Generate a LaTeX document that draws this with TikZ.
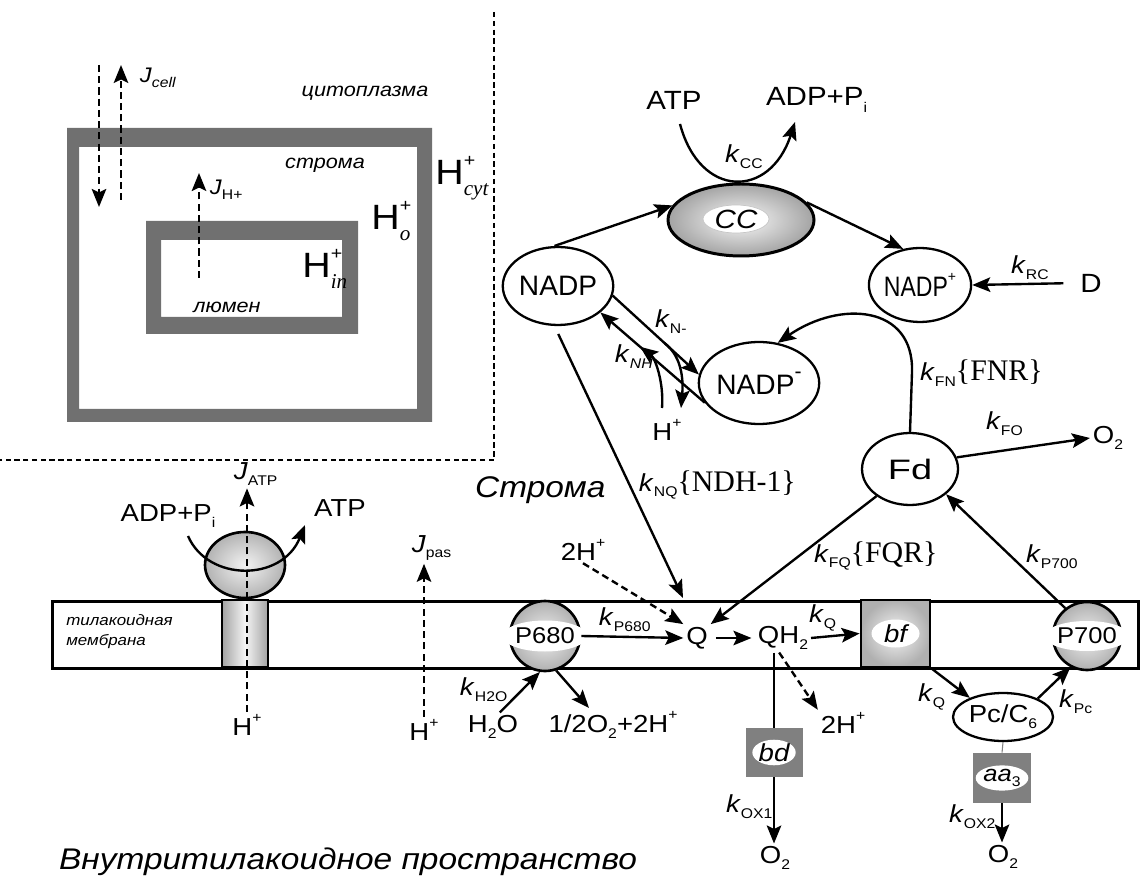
\documentclass[tikz,border=0pt]{standalone}
\usepackage{fontspec}
\setmainfont{Liberation Sans}[FakeStretch=1.12]
\newfontfamily\nadpfont{Liberation Sans}
\newfontfamily\timesfont{Liberation Serif}
\usetikzlibrary{arrows.meta, positioning, shapes.geometric, calc}

\definecolor{framegray}{gray}{0.44}
\definecolor{boxgray}{gray}{0.5}

\newcommand{\lo}[1]{\raisebox{-0.45ex}{\fontsize{8}{8}\selectfont #1}}
\newcommand{\hi}[1]{\raisebox{0.95ex}{\fontsize{8}{8}\selectfont #1}}
\newcommand{\rate}[1]{\textit{k}\lo{#1}}
\newcommand{\enz}[1]{{\timesfont\fontsize{17}{17}\selectfont\{#1\}}}
\newcommand{\Hion}[1]{H\rlap{\raisebox{1.0ex}{\fontsize{10}{10}\selectfont +}}\raisebox{-0.55ex}{\timesfont\itshape\fontsize{12}{12}\selectfont #1}}

\tikzset{
  arr/.style={line width=1.35pt, -{Stealth[length=3.6mm, width=2.9mm, inset=0.7mm]}},
  darr/.style={arr, dash pattern=on 4pt off 2.4pt},
  lbl/.style={inner sep=1.5pt},
  state/.style={ellipse, draw, line width=1.3pt, fill=white, inner sep=0pt, font=\nadpfont\fontsize{16}{16}\selectfont},
  sphere/.style={circle, draw, line width=1.5pt, inner sep=0pt, inner color=gray!12, outer color=gray!62},
  band/.style={ellipse, fill=white, inner sep=0pt, font=\fontsize{13}{13}\selectfont},
  tag/.style={ellipse, fill=white, inner sep=0pt, font=\itshape\fontsize{14}{14}\selectfont},
  oxid/.style={rectangle, fill=boxgray, inner sep=0pt},
  cplx/.style={rectangle, draw, line width=1.6pt, inner sep=0pt, inner color=gray!8, outer color=gray!62},
  room/.style={font=\itshape\fontsize{11}{11}\selectfont, inner sep=1pt},
  zone/.style={font=\itshape\fontsize{17}{17}\selectfont, inner sep=1pt, anchor=west},
  ionbig/.style={font=\fontsize{20}{20}\selectfont, inner sep=0pt, anchor=base west},
}

\begin{document}
\begin{tikzpicture}[x=0.02cm, y=-0.02cm, font=\fontsize{14}{16}\selectfont]
\useasboundingbox (0,0) rectangle (1141,884);

% inset: cell, stroma and lumen
\fill[framegray, even odd rule] (67,128) rectangle (432,422) (79,147) rectangle (417,409);
\fill[framegray, even odd rule] (146,221) rectangle (358,334) (161,240) rectangle (342,317);
\draw[line width=0.7pt, dash pattern=on 3pt off 2pt] (494,12) -- (494,460) -- (0,460);

\node[room] (cyto) at (365,93) {цитоплазма};
\node[room] (strom) at (325,165) {строма};
\node[room] (lumen) at (227,307) {люмен};
\node[ionbig] (Hcyt) at (435,185) {\Hion{cyt}};
\node[ionbig] (Ho) at (371,230) {\Hion{o}};
\node[ionbig] (Hin) at (302,278) {\Hion{in}};

\coordinate (jcA) at (99,65);   \coordinate (jcB) at (99,207);
\coordinate (jcC) at (121,200); \coordinate (jcD) at (121,65);
\coordinate (jhA) at (199,278); \coordinate (jhB) at (199,173);
\draw[darr] (jcA) -- (jcB);
\draw[darr] (jcC) -- (jcD);
\draw[darr] (jhA) -- (jhB);
\node[lbl, anchor=west, font=\fontsize{12}{12}\selectfont] (Jcell) at (137,78) {\textit{J}\lo{\textit{cell}}};
\node[lbl, anchor=west, font=\fontsize{12}{12}\selectfont] (JH) at (207,190) {\textit{J}\lo{H+}};

% membrane
\node[draw, line width=1.6pt, anchor=north west, minimum width=21.72cm, minimum height=1.34cm, inner sep=0pt] (membrane) at (51,600) {};
\node[anchor=west, align=left, font=\itshape\fontsize{8.6}{11.3}\selectfont, inner sep=0pt] (memtext) at (66,632) {тилакоидная\\мембрана};

% ATP synthase
\node[rectangle, draw, line width=1.5pt, minimum width=0.92cm, minimum height=1.34cm, inner sep=0pt, left color=gray!72, right color=gray!72, middle color=gray!8] (stalk) at (245,633.5) {};
\node[ellipse, draw, line width=1.5pt, minimum width=1.6cm, minimum height=1.32cm, inner sep=0pt, inner color=gray!10, outer color=gray!60] (head) at (245,565) {};
\node[lbl] (ADPl) at (168,516) {ADP+P\lo{i}};
\node[lbl] (ATPr) at (340,508) {ATP};
\node[lbl, anchor=west] (JATP) at (231,474) {\textit{J}\lo{ATP}};
\node[lbl] (Hatp) at (247,725) {H\hi{+}};
\coordinate (adpIn) at (188,536);
\coordinate (atpOut) at (305,525);
\draw[arr] (adpIn) .. controls (208,582) and (282,582) .. (atpOut);
\draw[darr] (Hatp.north) -- (Hatp.north |- JATP.south);

% passive leak
\node[lbl] (Hpas) at (424,730) {H\hi{+}};
\node[lbl, anchor=west] (Jpas) at (409,548) {\textit{J}\lo{pas}};
\draw[darr] (Hpas.north) -- (Hpas.north |- Jpas.south);

% PSII
\node[sphere, minimum size=1.4cm] (P680) at (545,636) {};
\node[band, minimum width=1.3cm, minimum height=0.62cm] (P680t) at (P680) {P680};
\node[lbl] (H2O) at (493,727) {H\lo{2}O};
\node[lbl] (O2H) at (613,725) {1/2O\lo{2}+2H\hi{+}};
\node[lbl, anchor=west] (kH2O) at (457,690) {\rate{H2O}};
\coordinate (o2tip) at (589,708);
\draw[arr] (H2O.65) -- (P680.-98);
\draw[arr] (P680.-72) -- (o2tip);

% quinone pool
\node[lbl] (Q) at (697,638) {Q};
\node[lbl] (QH2) at (783,638) {QH\lo{2}};
\node[lbl] (H2top) at (583,550) {2H\hi{+}};
\node[lbl] (H2bot) at (843,723) {2H\hi{+}};
\node[lbl, anchor=west] (kP680) at (596,620) {\rate{P680}};
\node[lbl, anchor=west] (kQa) at (806,618) {\rate{Q}};
\draw[arr] (P680.east) -- (Q.west);
\draw[arr, shorten <=3pt, shorten >=2pt] (Q.east) -- (QH2.west);
\draw[darr] (H2top.south) -- (Q.north west);
\draw[darr] (QH2.-105) -- (H2bot.north west);

% b6f
\node[cplx, minimum width=1.38cm, minimum height=1.34cm] (bf) at (895.5,633.5) {};
\node[tag, minimum width=0.96cm, minimum height=0.56cm] (bft) at (bf) {bf};
\draw[arr] (QH2.east) -- (bf.west);

% bd oxidase
\node[oxid, minimum width=1.14cm, minimum height=0.98cm] (bd) at (774,752.5) {};
\node[tag, minimum width=0.72cm, minimum height=0.48cm] (bdt) at (bd) {bd};
\node[lbl] (O2b) at (775,858) {O\lo{2}};
\node[lbl, anchor=west] (kOX1) at (723,807) {\rate{OX1}};
\draw[line width=1.35pt] (bd.north |- QH2.south) -- (bd.north);
\draw[arr] (bd.south) -- (bd.south |- O2b.north);

% PSI and plastocyanin
\node[sphere, minimum size=1.36cm] (P700) at (1087,636) {};
\node[band, minimum width=1.3cm, minimum height=0.6cm] (P700t) at (P700) {P700};
\node[state, minimum width=2.0cm, minimum height=0.96cm, font=\fontsize{14}{14}\selectfont] (Pc) at (1003,717) {Pc/C\lo{6}};
\node[oxid, minimum width=1.16cm, minimum height=1.0cm] (aa3) at (1002,778) {};
\node[tag, minimum width=0.8cm, minimum height=0.48cm, font=\itshape\fontsize{13}{13}\selectfont] (aa3t) at (aa3) {aa\lo{\upshape 3}};
\node[lbl] (O2c) at (1003,857) {O\lo{2}};
\node[lbl, anchor=west] (kQb) at (915,697) {\rate{Q}};
\node[lbl, anchor=west] (kPc) at (1056,702) {\rate{Pc}};
\node[lbl, anchor=west] (kOX2) at (946,817) {\rate{OX2}};
\draw[arr] (bf.south east) -- (Pc.150);
\draw[arr] (Pc.28) -- (P700.-118);
\draw[line width=0.6pt, gray] (Pc.south) -- (aa3.north);
\draw[arr] (aa3.south) -- (aa3.south |- O2c.north);

% compartments
\node[zone] (stromaL) at (473,490) {Строма};
\node[zone] (lumenL) at (57,862) {Внутритилакоидное пространство};

% stroma carriers
\node[state, minimum width=2.0cm, minimum height=1.56cm] (NADP) at (558,286) {NADP};
\node[state, minimum width=2.04cm, minimum height=1.64cm] (NADPm) at (759,383) {NADP\raisebox{1.1ex}{\fontsize{12}{12}\selectfont -}};
\node[state, minimum width=1.92cm, minimum height=1.48cm] (NADPp) at (920,285) {\scalebox{0.82}[1]{NADP}\hi{+}};
\node[state, minimum width=1.92cm, minimum height=1.44cm] (Fd) at (910,469) {\scalebox{1.35}[1]{Fd}};
\node[ellipse, draw, line width=1.7pt, minimum width=2.92cm, minimum height=1.44cm, inner sep=0pt, inner color=gray!5, outer color=gray!72] (CC) at (741,220) {};
\node[tag, draw=gray!45, line width=0.4pt, minimum width=1.32cm, minimum height=0.56cm, font=\itshape\fontsize{15}{15}\selectfont] (CCt) at (736,219) {CC};

% Calvin cycle
\node[lbl, font=\fontsize{15}{17}\selectfont] (atpT) at (674,100) {ATP};
\node[lbl, anchor=west, font=\fontsize{15}{17}\selectfont] (adpT) at (763,100) {ADP+P\lo{i}};
\node[lbl, anchor=west] (kCC) at (722,157) {\rate{CC}};
\coordinate (atpIn) at (680,124);
\coordinate (adpOut) at (795,122);
\draw[arr] (atpIn) .. controls (700,199) and (770,199) .. (adpOut);
\draw[arr] (NADP.95) -- (CC.168);
\draw[arr] (CC.15) -- (NADPp.115);

\node[lbl, font=\fontsize{15}{17}\selectfont] (D) at (1091,283) {D};
\node[lbl, anchor=west] (kRC) at (1008,268) {\rate{RC}};
\draw[arr, shorten <=8pt] (D.west) -- (NADPp.east);

% NADP <-> NADP-
\draw[arr] (NADP.-10) -- (NADPm.172);
\draw[arr] (NADPm.200) -- (NADP.-32);
\node[lbl] (Hn) at (667,430) {H\hi{+}};
\coordinate (nmBr) at ($(NADP.-10)!0.6!(NADPm.172)$);
\coordinate (nhBr) at ($(NADPm.200)!0.62!(NADP.-32)$);
\coordinate (hnIn) at (681,408);
\coordinate (hnOut) at (662,408);
\draw[arr] (nmBr) .. controls (684,358) and (683,385) .. (hnIn);
\draw[arr] (hnOut) .. controls (664,382) and (655,358) .. (nhBr);
\node[lbl, anchor=west] (kNm) at (652,322) {\rate{N-}};
\node[lbl, anchor=west] (kNH) at (612,357) {\rate{\textit{NH}}};

% ferredoxin
\coordinate (fnBend) at (912,372);
\draw[arr] (Fd.north) -- (fnBend) .. controls (914,305) and (840,300) .. (NADPm.65);
\node[lbl, anchor=west] (kFN) at (917,373) {\rate{FN}\enz{FNR}};
\node[lbl] (O2a) at (1108,438) {O\lo{2}};
\node[lbl, anchor=west] (kFO) at (983,424) {\rate{FO}};
\draw[arr] (Fd.14) -- (O2a.west);

% electrons into the membrane
\coordinate (ndhTip) at (683,598);
\draw[arr, shorten <=5pt] (NADP.-95) -- (ndhTip);
\node[lbl, anchor=west] (kNQ) at (636,485) {\rate{NQ}\enz{NDH-1}};
\draw[arr] (Fd.219) -- (Q.north east);
\node[lbl, anchor=west] (kFQ) at (811,556) {\rate{FQ}\enz{FQR}};
\draw[arr] (P700.128) -- (Fd.-35);
\node[lbl, anchor=west] (kP700) at (1023,557) {\rate{P700}};
\end{tikzpicture}
\end{document}
